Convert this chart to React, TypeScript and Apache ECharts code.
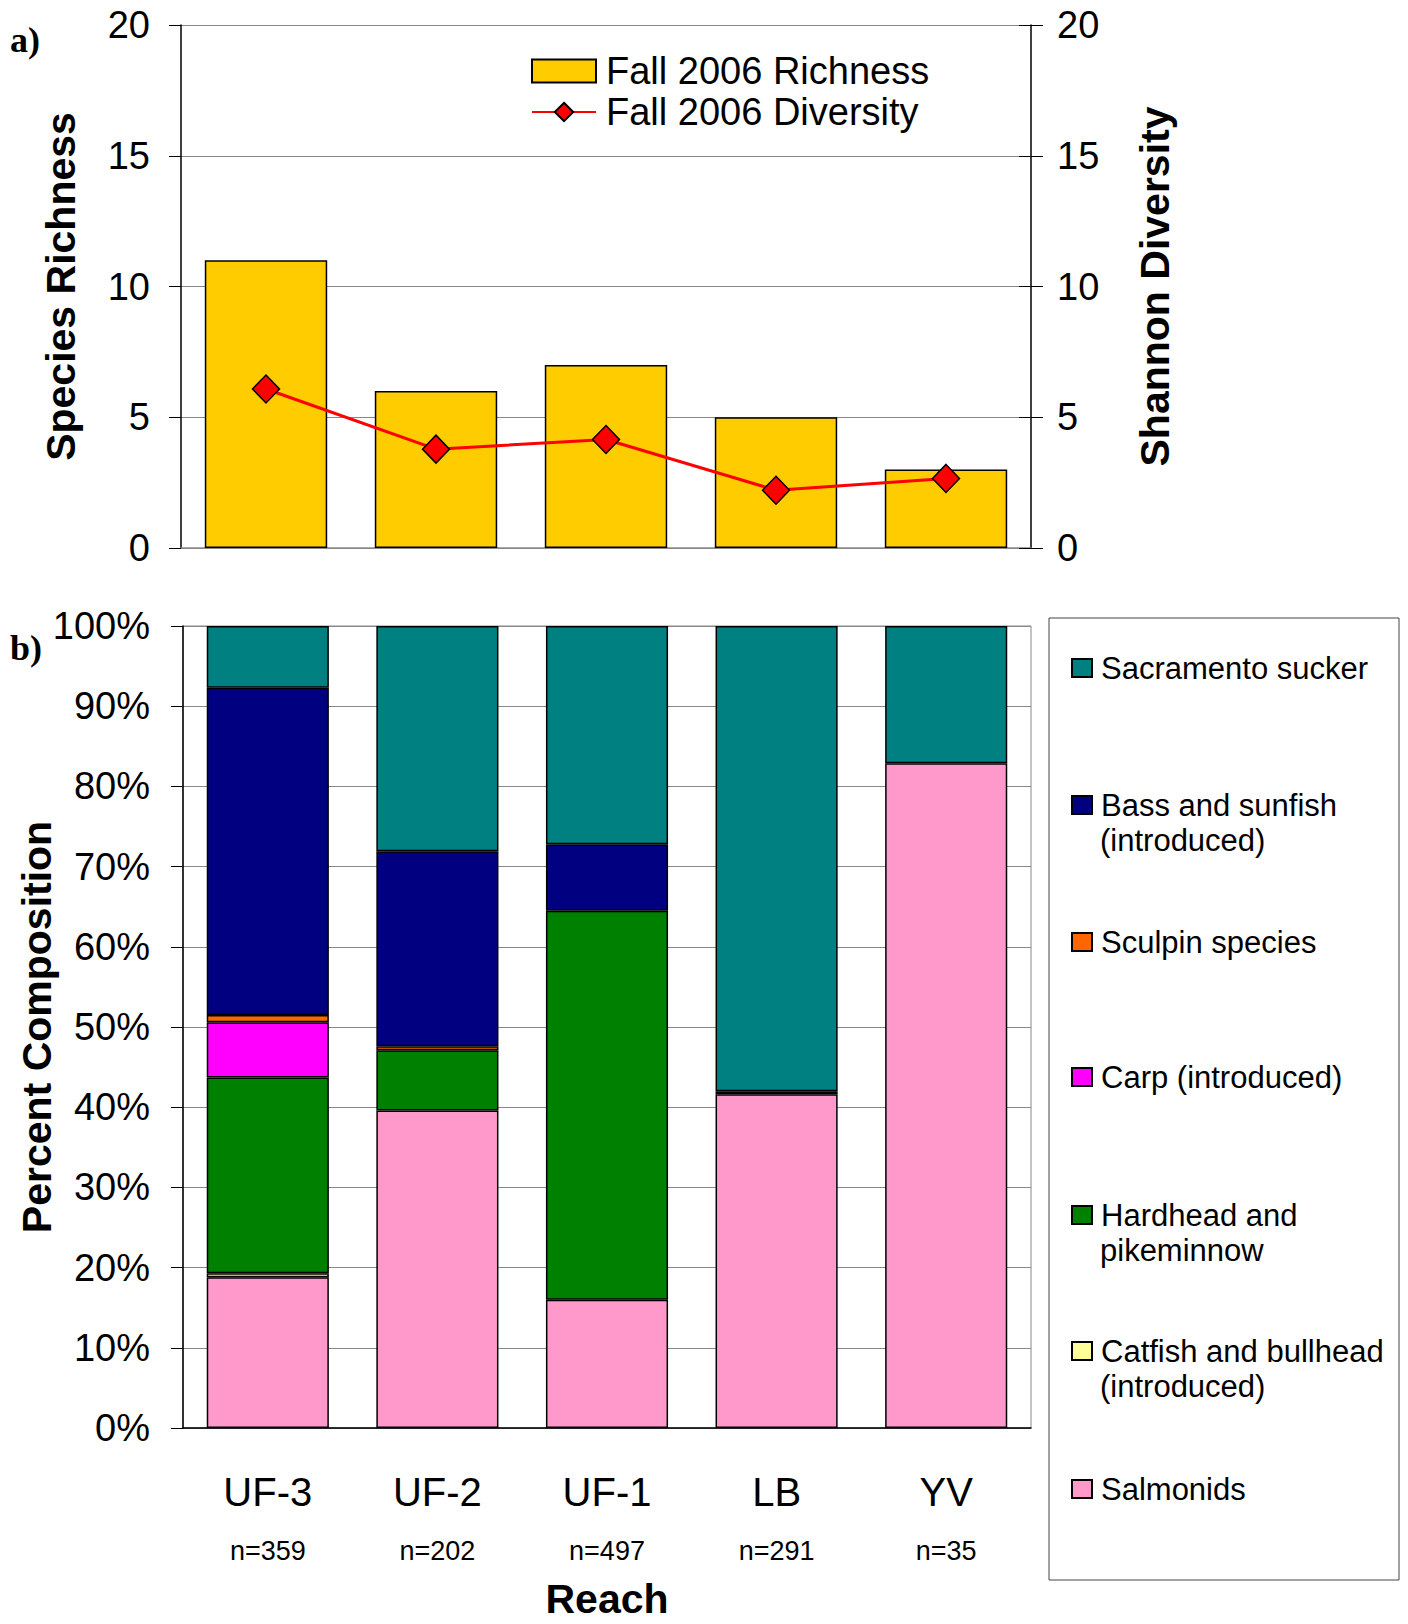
import React, { useEffect, useRef } from "react";
import * as echarts from "echarts";

const categories = ["UF-3", "UF-2", "UF-1", "LB", "YV"];
const sampleSizes = ["n=359", "n=202", "n=497", "n=291", "n=35"];

const richness = [11, 6, 7, 5, 3];
const diversity = [6.08, 3.78, 4.15, 2.21, 2.66];

const salmonids = [18.8, 39.6, 16.0, 41.6, 82.9];
const catfish = [0.5, 0, 0, 0, 0];
const hardhead = [24.4, 7.5, 48.5, 0.4, 0];
const carp = [6.9, 0, 0, 0, 0];
const sculpin = [0.9, 0.5, 0, 0, 0];
const bass = [40.8, 24.3, 8.3, 0, 0];
const sucker = [7.7, 28.1, 27.2, 58.0, 17.1];

const richTicks = [0, 5, 10, 15, 20];
const pctTicks = [0, 10, 20, 30, 40, 50, 60, 70, 80, 90, 100];

// bottom to top stacking order
const groups = [
  { name: "Salmonids", line1: "Salmonids", line2: "", values: salmonids, color: "#FF99CC" },
  { name: "Catfish and bullhead (introduced)", line1: "Catfish and bullhead", line2: "(introduced)", values: catfish, color: "#FFFF99" },
  { name: "Hardhead and pikeminnow", line1: "Hardhead and", line2: "pikeminnow", values: hardhead, color: "#008000" },
  { name: "Carp (introduced)", line1: "Carp (introduced)", line2: "", values: carp, color: "#FF00FF" },
  { name: "Sculpin species", line1: "Sculpin species", line2: "", values: sculpin, color: "#FF6600" },
  { name: "Bass and sunfish (introduced)", line1: "Bass and sunfish", line2: "(introduced)", values: bass, color: "#000080" },
  { name: "Sacramento sucker", line1: "Sacramento sucker", line2: "", values: sucker, color: "#008080" },
];

const FONT = '"Liberation Sans", Arial, sans-serif';

export default function App() {
  const ref = useRef<HTMLDivElement>(null);

  useEffect(() => {
    document.body.style.margin = "0";
    const chart = echarts.init(ref.current!, null, { renderer: "svg" });

    const legendOrder = [...groups].reverse();
    const legendCenters = [668, 805, 942, 1077, 1215, 1351, 1489];
    const legendIconLeft = 1071;
    const legendTextLeft = legendIconLeft + 20 + 9;
    const bottomLegends = legendOrder.map((g, i) => ({
      data: [{ name: g.name, icon: "rect" }],
      orient: "vertical",
      left: legendIconLeft,
      top: legendCenters[i] - 18,
      padding: 0,
      itemWidth: 20,
      itemHeight: 18,
      selectedMode: false,
      formatter: () => g.line1,
      textStyle: {
        fontFamily: FONT,
        fontSize: 31,
        lineHeight: 36,
        color: "#000",
        padding: [0, 0, 0, 4],
      },
    }));
    const secondLines = legendOrder
      .map((g, i) =>
        g.line2
          ? {
              type: "text",
              x: legendTextLeft,
              y: legendCenters[i] + 35,
              style: {
                text: g.line2,
                font: `31px ${FONT}`,
                fill: "#000",
                verticalAlign: "middle",
              },
            }
          : null
      )
      .filter(Boolean);

    const nameStyle = { fontFamily: FONT, fontSize: 41, fontWeight: "bold", color: "#000" };

    const option: any = {
      animation: false,
      textStyle: { fontFamily: FONT },
      grid: [
        { left: 181, top: 25, width: 850, height: 523, outerBoundsMode: "none" },
        {
          left: 183,
          top: 626,
          width: 848,
          height: 802,
          show: true,
          borderColor: "#888",
          borderWidth: 1,
          outerBoundsMode: "none",
        },
      ],
      legend: [
        {
          data: [
            { name: "Fall 2006 Richness", icon: "rect" },
            { name: "Fall 2006 Diversity" },
          ],
          orient: "vertical",
          left: 531,
          top: 51,
          padding: 0,
          itemGap: 1,
          itemWidth: 64,
          itemHeight: 23,
          selectedMode: false,
          textStyle: {
            fontFamily: FONT,
            fontSize: 38,
            lineHeight: 40,
            color: "#000",
            padding: [0, 0, 0, 5],
          },
        },
        ...bottomLegends,
      ],
      graphic: [
        {
          type: "rect",
          shape: { x: 1049, y: 618, width: 350, height: 962 },
          style: { fill: "none", stroke: "#444", lineWidth: 1 },
        },
        ...secondLines,
        {
          type: "text",
          x: 10,
          y: 40,
          style: {
            text: "a)",
            font: 'bold 36px "Liberation Serif", "DejaVu Serif", serif',
            fill: "#000",
            verticalAlign: "middle",
          },
        },
        {
          type: "text",
          x: 10,
          y: 648,
          style: {
            text: "b)",
            font: 'bold 36px "Liberation Serif", "DejaVu Serif", serif',
            fill: "#000",
            verticalAlign: "middle",
          },
        },
      ],
      xAxis: [
        {
          gridIndex: 0,
          type: "category",
          data: categories,
          axisLine: { lineStyle: { color: "#888", width: 1.5 } },
          axisTick: { show: false },
          axisLabel: { show: false },
        },
        {
          gridIndex: 1,
          type: "category",
          data: categories,
          axisLine: { lineStyle: { color: "#000", width: 1.5 } },
          axisTick: { length: 12, lineStyle: { color: "#000" } },
          axisLabel: {
            margin: 44,
            color: "#000",
            formatter: (v: string, i: number) => `{a|${v}}\n{b|${sampleSizes[i]}}`,
            rich: {
              a: { fontFamily: FONT, fontSize: 40, lineHeight: 40, color: "#000" },
              b: { fontFamily: FONT, fontSize: 27, lineHeight: 78, color: "#000" },
            },
          },
          name: "Reach",
          nameLocation: "middle",
          nameGap: 150,
          nameMoveOverlap: false,
          nameTextStyle: nameStyle,
        },
      ],
      yAxis: [
        {
          gridIndex: 0,
          type: "value",
          min: richTicks[0],
          max: richTicks[richTicks.length - 1],
          interval: 5,
          axisLine: { show: true, lineStyle: { color: "#000", width: 1.5 } },
          axisTick: { show: true, length: 12, lineStyle: { color: "#000" } },
          axisLabel: { fontFamily: FONT, fontSize: 38, margin: 31, color: "#000" },
          splitLine: { lineStyle: { color: "#888", width: 1 } },
          name: "Species Richness",
          nameLocation: "middle",
          nameRotate: 90,
          nameGap: 100,
          nameMoveOverlap: false,
          nameTextStyle: nameStyle,
        },
        {
          gridIndex: 0,
          type: "value",
          position: "right",
          min: richTicks[0],
          max: richTicks[richTicks.length - 1],
          interval: 5,
          axisLine: { show: true, lineStyle: { color: "#000", width: 1.5 } },
          axisTick: { show: true, length: 12, lineStyle: { color: "#000" } },
          axisLabel: { fontFamily: FONT, fontSize: 38, margin: 26, color: "#000" },
          splitLine: { show: false },
          name: "Shannon Diversity",
          nameLocation: "middle",
          nameRotate: 90,
          nameGap: 103,
          nameMoveOverlap: false,
          nameTextStyle: nameStyle,
        },
        {
          gridIndex: 0,
          type: "value",
          position: "right",
          min: 0,
          max: 20,
          interval: 5,
          axisLine: { show: false },
          axisTick: { show: true, inside: true, length: 12, lineStyle: { color: "#000" } },
          axisLabel: { show: false },
          splitLine: { show: false },
        },
        {
          gridIndex: 1,
          type: "value",
          min: pctTicks[0],
          max: pctTicks[pctTicks.length - 1],
          interval: 10,
          axisLine: { show: true, lineStyle: { color: "#000", width: 1.5 } },
          axisTick: { show: true, length: 12, lineStyle: { color: "#000" } },
          axisLabel: {
            fontFamily: FONT,
            fontSize: 38,
            margin: 33,
            color: "#000",
            formatter: "{value}%",
          },
          splitLine: { lineStyle: { color: "#888", width: 1 } },
          name: "Percent Composition",
          nameLocation: "middle",
          nameRotate: 90,
          nameGap: 126,
          nameMoveOverlap: false,
          nameTextStyle: nameStyle,
        },
      ],
      series: [
        {
          name: "Fall 2006 Richness",
          type: "bar",
          xAxisIndex: 0,
          yAxisIndex: 0,
          data: richness,
          barWidth: "72%",
          itemStyle: { color: "#FFCC00", borderColor: "#000", borderWidth: 1.5 },
        },
        {
          name: "Fall 2006 Diversity",
          type: "line",
          xAxisIndex: 0,
          yAxisIndex: 1,
          data: diversity,
          symbol: "diamond",
          symbolSize: [27, 28],
          z: 5,
          lineStyle: { color: "#FF0000", width: 3 },
          itemStyle: { color: "#FF0000", borderColor: "#000", borderWidth: 1.5 },
        },
        ...groups.map((g) => ({
          name: g.name,
          type: "bar",
          stack: "composition",
          xAxisIndex: 1,
          yAxisIndex: 3,
          barWidth: "72%",
          data: g.values.map((v) => (v === 0 ? null : v)),
          itemStyle: { color: g.color, borderColor: "#000", borderWidth: 1.5 },
        })),
      ],
    };

    chart.setOption(option);
    return () => chart.dispose();
  }, []);

  return <div ref={ref} style={{ width: 1408, height: 1624 }} />;
}
